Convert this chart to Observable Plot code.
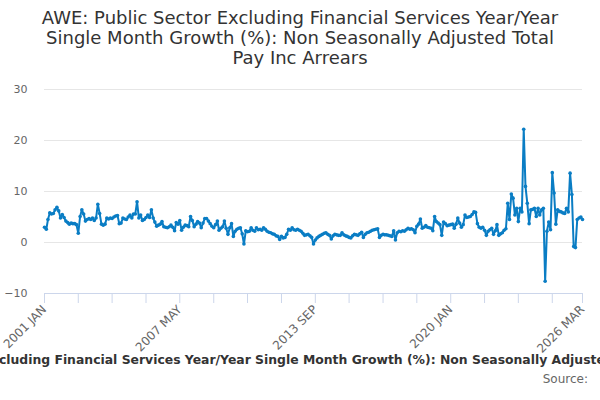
<!DOCTYPE html>
<html>
<head>
<meta charset="utf-8">
<script src="https://cdn.jsdelivr.net/npm/d3@7"></script>
<script src="https://cdn.jsdelivr.net/npm/@observablehq/plot@0.6"></script>
<style>
  html, body { margin: 0; padding: 0; background: #fff; }
  #wrap { position: relative; width: 600px; height: 400px; overflow: hidden; font-family: "DejaVu Sans", sans-serif; }
  #title { height: 78px; box-sizing: border-box; padding-top: 8px; text-align: center; font-size: 18px; line-height: 20px; color: #333; }
  #chart { height: 270px; }
  #chart svg { overflow: visible; }
  #caption { position: relative; height: 24px; }
  #caption span { position: absolute; left: 50%; top: 4px; transform: translateX(calc(-50% + 4px)); white-space: nowrap; font-weight: bold; font-size: 12.4px; color: #333; }
  #source { text-align: right; padding-right: 12px; font-size: 12px; color: #666; }
</style>
</head>
<body>
<div id="wrap">
  <div id="title">AWE: Public Sector Excluding Financial Services Year/Year<br>Single Month Growth (%): Non Seasonally Adjusted Total<br>Pay Inc Arrears</div>
  <div id="chart"></div>
  <div id="caption"><span>AWE: Public Sector Excluding Financial Services Year/Year Single Month Growth (%): Non Seasonally Adjusted Total Pay Inc Arrears</span></div>
  <div id="source">Source:</div>
</div>
<script>
// Series start: 2001 JAN, monthly
const startYear = 2001;
const startMonth = 0; // January
const values = [
  3.0, 2.6, 4.5, 5.8, 5.6, 5.7, 6.4, 6.9, 6.2, 4.8, 5.5, 4.9,
  4.2, 3.9, 3.6, 3.8, 3.7, 3.7, 3.5, 1.8, 5.1, 6.4, 5.6, 4.2,
  4.5, 4.7, 4.5, 4.8, 4.3, 4.8, 7.5, 5.7, 3.6, 3.4, 3.6, 4.8,
  4.6, 4.8, 4.7, 5.0, 5.2, 5.3, 3.7, 3.8, 4.8, 4.6, 4.5, 5.0,
  5.4, 4.8, 5.6, 5.6, 8.0, 4.8, 5.4, 4.3, 4.5, 4.9, 5.4, 4.9,
  6.4, 4.8, 4.0, 3.2, 3.4, 3.6, 4.1, 3.1, 3.0, 2.9, 3.1, 3.4,
  3.0, 2.3, 3.9, 3.6, 4.3, 2.4, 3.0, 3.4, 3.3, 3.1, 5.1, 4.3,
  3.1, 3.6, 4.1, 3.8, 2.9, 3.8, 4.7, 4.7, 4.2, 3.7, 3.2, 2.9,
  3.5, 4.2, 2.4, 2.8, 3.1, 4.2, 2.8, 1.6, 2.9, 3.7, 1.2, 2.2,
  2.6, 2.8, 2.9, 1.7, -0.3, 2.3, 2.1, 2.2, 2.9, 2.4, 2.2, 2.9,
  2.5, 2.6, 2.4, 2.9, 2.6, 2.2, 2.0, 1.9, 1.7, 1.6, 1.3, 1.2,
  0.6, 1.2, 0.9, 1.0, 1.6, 2.6, 2.4, 2.9, 2.5, 2.4, 2.6, 2.4,
  2.2, 1.8, 1.4, 1.5, 1.6, 1.3, 1.0, -0.3, 0.5, 0.9, 1.2, 1.4,
  1.6, 1.8, 1.9, 1.6, 1.4, 0.7, 1.3, 1.6, 1.5, 1.4, 1.4, 1.9,
  1.5, 1.3, 1.2, 1.0, 0.9, 1.3, 1.6, 1.5, 1.4, 1.7, 2.0, 1.0,
  1.6, 1.9, 2.0, 2.2, 2.4, 2.5, 2.6, 2.7, 1.0, 1.4, 1.6, 1.5,
  1.5, 1.4, 1.3, 1.2, 2.3, 0.5, 1.9, 2.2, 2.1, 2.3, 2.2, 2.5,
  2.8, 2.6, 2.7, 2.5, 1.9, 3.2, 3.6, 4.6, 2.8, 3.0, 3.3, 3.0,
  2.9, 2.8, 2.3, 5.1, 4.1, 3.8, 3.5, 1.4, 4.0, 3.7, 3.3, 3.4,
  3.5, 3.6, 2.8, 3.6, 4.8, 3.8, 3.0, 3.5, 5.4, 4.9, 5.0, 5.1,
  5.5, 6.0, 5.9, 3.7, 3.0, 2.8, 3.0, 2.4, 1.4, 2.2, 2.5, 2.8,
  1.6, 2.3, 3.5, 1.4, 1.7, 1.9, 2.4, 2.7, 7.7, 4.5, 9.5, 8.7,
  5.4, 6.7, 4.1, 6.7, 6.0, 22.2, 11.0, 7.7, 3.7, 6.4, 6.5, 6.7,
  5.1, 6.7, 5.4, 6.4, 6.7, -7.6, 2.2, 4.0, 2.5, 13.7, 9.7, 3.6,
  6.4, 6.1, 6.0, 5.8, 5.7, 6.7, 6.0, 13.6, 9.4, -0.8, -1.0, 4.5,
  4.8, 5.0, 4.5
];
const yTicks = [-10, 0, 10, 20, 30];
const tickStepMonths = 19;
const tickLabels = ["2001 JAN", "2007 MAY", "2013 SEP", "2020 JAN", "2026 MAR"];

const start = new Date(Date.UTC(startYear, startMonth, 1));
const data = values.map((v, i) => ({ date: d3.utcMonth.offset(start, i), value: v }));
const end = data[data.length - 1].date;

const tickDates = [];
for (let i = 0; i < values.length - 1; i += tickStepMonths) tickDates.push(d3.utcMonth.offset(start, i));
tickDates.push(end);
const labelFor = new Map();
[0, 4, 8, 12].forEach((k, j) => labelFor.set(+tickDates[k], tickLabels[j]));
labelFor.set(+end, tickLabels[4]);

const color = "#0a7dc4";

const chart = Plot.plot({
  width: 600,
  height: 270,
  marginLeft: 44,
  marginRight: 18,
  marginTop: 11,
  marginBottom: 55,
  style: { fontFamily: "DejaVu Sans, sans-serif", fontSize: "11px", color: "#666", background: "#fff", overflow: "visible" },
  x: { type: "utc", domain: [start, end] },
  y: { domain: [-10, 30] },
  marks: [
    Plot.gridY(yTicks, { stroke: "#e6e6e6", strokeOpacity: 1 }),
    Plot.axisY(yTicks, { tickSize: 0, tickPadding: 17, label: null, fill: "#666", fontSize: 11 }),
    Plot.ruleY([-10], { stroke: "#ccd6eb", strokeWidth: 1 }),
    Plot.axisX(tickDates, {
      tickSize: 10,
      stroke: "#ccd6eb",
      strokeOpacity: 1,
      tickPadding: 4,
      tickRotate: -45,
      tickFormat: d => labelFor.get(+d) || "",
      label: null,
      fill: "#666",
      fontSize: 12
    }),
    Plot.line(data, { x: "date", y: "value", stroke: color, strokeWidth: 2 }),
    Plot.dot(data, { x: "date", y: "value", r: 1.8, fill: color, stroke: null })
  ]
});
document.getElementById("chart").appendChild(chart);
</script>
</body>
</html>
